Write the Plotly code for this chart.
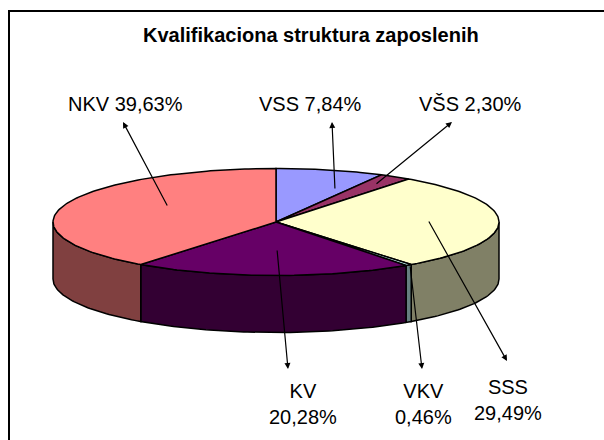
import math
import plotly.graph_objects as go

labels = ["VSS", "VŠS", "SSS", "VKV", "KV", "NKV"]
values = [7.84, 2.30, 29.49, 0.46, 20.28, 39.63]
text_labels = ["VSS 7,84%", "VŠS 2,30%", "SSS<br>29,49%", "VKV<br>0,46%", "KV<br>20,28%", "NKV 39,63%"]
top_colors = ["#9999FF", "#993366", "#FFFFCC", "#CCFFFF", "#660066", "#FF8080"]
side_colors = ["#4D4D80", "#4D1A33", "#808066", "#668080", "#330033", "#804040"]
title = "Kvalifikaciona struktura zaposlenih"

CX, CY, RX, RY, DEPTH = 276, 222, 223, 53.5, 57
label_pos = [(310, 104), (470, 104), (508, 400), (423, 404), (303, 404), (125, 104)]
arrow_tail = [(335, 190), (375, 185), (428, 220), (410, 265), (277, 249), (168, 207)]
arrow_head = [(332, 122), (452, 122), (507, 361), (422, 369), (288, 369), (123, 122)]


def pt(frac, dy=0):
    a = 2 * math.pi * frac
    return CX + RX * math.sin(a), CY - RY * math.cos(a) + dy


def arc(f0, f1, dy=0):
    n = max(2, int((f1 - f0) * 360))
    return [pt(f0 + (f1 - f0) * i / n, dy) for i in range(n + 1)]


fig = go.Figure()


def poly(points, fill, width=1.5):
    fig.add_trace(go.Scatter(
        x=[p[0] for p in points], y=[p[1] for p in points],
        mode="lines", fill="toself", fillcolor=fill,
        line=dict(color="#000000", width=width), hoverinfo="skip", showlegend=False))


spans = []
c = 0.0
for v in values:
    spans.append((c / 100, (c + v) / 100))
    c += v

# side walls: only the front half of the pie (fraction 0.25..0.75) is visible
for (f0, f1), col in zip(spans, side_colors):
    a, b = max(f0, 0.25), min(f1, 0.75)
    if a < b:
        poly(arc(a, b) + arc(a, b, DEPTH)[::-1] + [pt(a)], col)

# top faces
for (f0, f1), col in zip(spans, top_colors):
    poly([(CX, CY)] + arc(f0, f1) + [(CX, CY)], col)

annotations = []
for name, (tx, ty), (hx, hy), (lx, ly) in zip(text_labels, arrow_tail, arrow_head, label_pos):
    annotations.append(dict(x=hx, y=hy, ax=tx, ay=ty, xref="x", yref="y", axref="x", ayref="y",
                            showarrow=True, arrowhead=2, arrowsize=1, arrowwidth=1.2,
                            arrowcolor="#000000", text=""))
    annotations.append(dict(x=lx, y=ly, xref="x", yref="y", text=name, showarrow=False,
                            font=dict(family="Liberation Sans", size=20, color="#000000"),
                            align="center", xanchor="center", yanchor="middle"))
annotations.append(dict(x=311, y=35, xref="x", yref="y", text="<b>%s</b>" % title, showarrow=False,
                        font=dict(family="Liberation Sans", size=20, color="#000000"),
                        xanchor="center", yanchor="middle"))

fig.update_layout(
    width=604, height=440, margin=dict(l=0, r=0, t=0, b=0),
    paper_bgcolor="#FFFFFF", plot_bgcolor="#FFFFFF", showlegend=False,
    xaxis=dict(range=[0, 604], visible=False, fixedrange=True),
    yaxis=dict(range=[440, 0], visible=False, fixedrange=True),
    annotations=annotations,
    shapes=[dict(type="rect", xref="x", yref="y", x0=9, y0=11, x1=640, y1=480,
                 line=dict(color="#000000", width=2), fillcolor="rgba(0,0,0,0)", layer="below")],
)
fig.write_html("out.html", config={"displayModeBar": False},
               post_script="document.body.style.margin='0';document.documentElement.style.overflow='hidden';")
